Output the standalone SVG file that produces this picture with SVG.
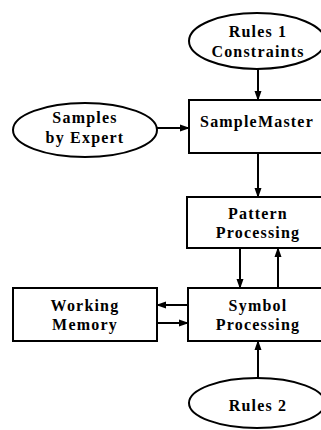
<svg xmlns="http://www.w3.org/2000/svg" width="321" height="430" viewBox="0 0 321 430">
<defs>
<style>
.n{fill:#fff;stroke:#000;stroke-width:2}
.t{font-family:"Liberation Serif",serif;font-weight:bold;font-size:16px;letter-spacing:1.2px;text-anchor:middle;fill:#000}
.c{stroke:#000;stroke-width:2;fill:none;marker-end:url(#ah)}
</style>
<marker id="ah" viewBox="0 0 10 10" refX="9" refY="5" markerWidth="5" markerHeight="5" orient="auto" markerUnits="strokeWidth">
<path d="M0,1.5 L10,5 L0,8.5 z" fill="#000"/>
</marker>
</defs>
<rect width="321" height="430" fill="#fff"/>
<g id="connectors">
<line class="c" x1="258" y1="68" x2="258" y2="100"/>
<line class="c" x1="157" y1="128" x2="189" y2="128"/>
<line class="c" x1="258" y1="153" x2="258" y2="197"/>
<line class="c" x1="240" y1="248" x2="240" y2="288"/>
<line class="c" x1="278" y1="288" x2="278" y2="248"/>
<line class="c" x1="188" y1="305" x2="157" y2="305"/>
<line class="c" x1="157" y1="323" x2="188" y2="323"/>
<line class="c" x1="258" y1="378" x2="258" y2="341"/>
</g>
<g id="rules1">
<ellipse class="n" cx="257" cy="41" rx="68" ry="28"/>
<text class="t" x="258" y="37">Rules 1</text>
<text class="t" x="258" y="57">Constraints</text>
</g>
<g id="samples">
<ellipse class="n" cx="85" cy="130" rx="72" ry="27"/>
<text class="t" x="85" y="123">Samples</text>
<text class="t" x="85" y="143">by Expert</text>
</g>
<g id="samplemaster">
<rect class="n" x="189" y="100" width="140" height="53"/>
<text class="t" x="257" y="127">SampleMaster</text>
</g>
<g id="pattern">
<rect class="n" x="187" y="197" width="142" height="51"/>
<text class="t" x="258" y="219">Pattern</text>
<text class="t" x="258" y="238">Processing</text>
</g>
<g id="symbol">
<rect class="n" x="188" y="288" width="141" height="53"/>
<text class="t" x="258" y="311">Symbol</text>
<text class="t" x="258" y="330">Processing</text>
</g>
<g id="memory">
<rect class="n" x="13" y="288" width="144" height="53"/>
<text class="t" x="85" y="311">Working</text>
<text class="t" x="85" y="330">Memory</text>
</g>
<g id="rules2">
<ellipse class="n" cx="257" cy="403" rx="68" ry="25"/>
<text class="t" x="258" y="411">Rules 2</text>
</g>
</svg>
